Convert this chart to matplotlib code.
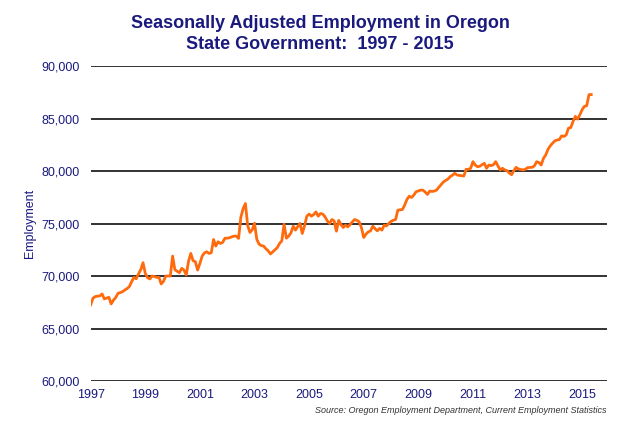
import matplotlib
matplotlib.use("Agg")
import matplotlib.pyplot as plt
import numpy as np

start_year = 1997
employment = [
    # 1997
    67250, 67880, 68040, 68080, 68100, 68290, 67820, 67900, 67970, 67340, 67700, 67950,
    # 1998
    68350, 68420, 68510, 68670, 68800, 69000, 69460, 69870, 69740, 70190, 70600, 71270,
    # 1999
    70250, 69840, 69720, 70000, 69950, 69870, 69870, 69240, 69500, 70000, 70000, 70000,
    # 2000
    71900, 70600, 70450, 70320, 70730, 70570, 70100, 71400, 72150, 71460, 71360, 70570,
    # 2001
    71200, 71900, 72200, 72310, 72150, 72220, 73480, 72850, 73260, 73100, 73200, 73600,
    # 2002
    73600, 73640, 73730, 73800, 73800, 73580, 75600, 76420, 76900, 74800, 74150, 74400,
    # 2003
    75030, 73500, 73040, 72900, 72850, 72600, 72400, 72100, 72300, 72500, 72700, 73100,
    # 2004
    73350, 74940, 73600, 73800, 74100, 74750, 74370, 74700, 75000, 74050, 74800, 75700,
    # 2005
    75900, 75700, 75850, 76100, 75700, 75950, 75900, 75630, 75250, 75000, 75380, 75250,
    # 2006
    74270, 75300, 74900, 74620, 74840, 74680, 74900, 75160, 75380, 75300, 75160, 74600,
    # 2007
    73670, 73990, 74200, 74300, 74750, 74500, 74300, 74540, 74370, 74840, 74770, 75000,
    # 2008
    75200, 75310, 75380, 76270, 76300, 76330, 76750, 77290, 77600, 77480, 77700, 78020,
    # 2009
    78100, 78180, 78180, 78000, 77770, 78090, 78050, 78090, 78180, 78450, 78700, 78950,
    # 2010
    79100, 79230, 79460, 79600, 79780, 79620, 79580, 79550, 79520, 80160, 80160, 80260,
    # 2011
    80890, 80570, 80410, 80450, 80600, 80730, 80260, 80570, 80510, 80600, 80890, 80480,
    # 2012
    80100, 80260, 80100, 80030, 79800, 79650, 80050, 80350, 80190, 80150, 80100, 80160,
    # 2013
    80320, 80330, 80350, 80480, 80890, 80800, 80570, 81210, 81530, 82070, 82400, 82650,
    # 2014
    82870, 82950, 83000, 83350, 83290, 83440, 84080, 84140, 84720, 85200, 84940, 85360,
    # 2015
    85840, 86160, 86220, 87270, 87280,
]
x_ticks = [1997, 1999, 2001, 2003, 2005, 2007, 2009, 2011, 2013, 2015]
y_ticks = [60000, 65000, 70000, 75000, 80000, 85000, 90000]

navy = "#1a1a7e"
months = start_year + np.arange(len(employment)) / 12.0

plt.rcParams['font.family'] = ['Liberation Sans', 'DejaVu Sans']
fig = plt.figure(figsize=(6.4, 4.25), dpi=100)
ax = fig.add_axes([0.1417, 0.1035, 0.8063, 0.7412])

for yv in y_ticks:
    ax.axhline(yv, color="#222222", lw=1.3, zorder=1)

ax.plot(months, employment, color="#ff6a0d", lw=2.0, zorder=3, solid_joinstyle="round")

ax.set_xlim(1997, 2015.9)
ax.set_ylim(60000, 90000)
ax.set_xticks(x_ticks)
ax.set_xticklabels([str(t) for t in x_ticks])
ax.set_yticks(y_ticks)
ax.set_yticklabels([f"{v:,}" for v in y_ticks])
ax.tick_params(axis="both", length=0, colors=navy, labelsize=9)
ax.tick_params(axis="y", pad=8)
ax.tick_params(axis="x", pad=6)
for s in ax.spines.values():
    s.set_visible(False)

ax.set_ylabel("Employment", color=navy, fontsize=9, labelpad=4)

fig.text(0.5, 0.921, "Seasonally Adjusted Employment in Oregon\nState Government:  1997 - 2015",
         ha="center", va="center", fontsize=13, fontweight="bold", color=navy, linespacing=1.3)

fig.text(0.948, 0.033, "Source: Oregon Employment Department, Current Employment Statistics",
         ha="right", va="center", fontsize=6.5, style="italic", color="#333333")

fig.savefig("out.png", dpi=100)
